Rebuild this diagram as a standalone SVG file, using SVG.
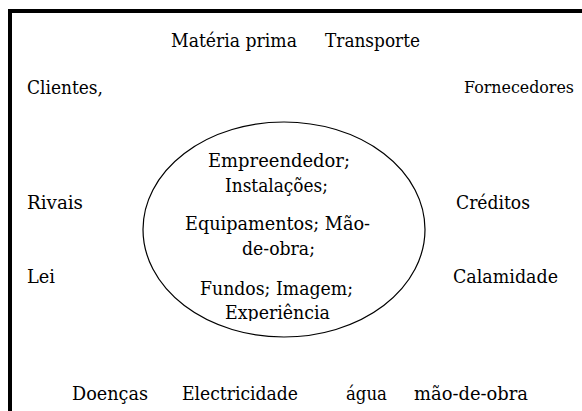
<svg xmlns="http://www.w3.org/2000/svg" width="582" height="411" viewBox="0 0 582 411">
<style>
text{font-family:"DejaVu Serif","Liberation Serif",serif;font-size:19px;fill:#000}
</style>
<defs>
<clipPath id="clipInner"><rect x="130" y="120" width="310" height="201"/></clipPath>
</defs>
<rect x="0" y="0" width="582" height="411" fill="#fff"/>
<path d="M10 420 V11 H600" fill="none" stroke="#000" stroke-width="4"/>
<g id="core">
<ellipse cx="284" cy="229.5" rx="141" ry="107.5" fill="none" stroke="#000" stroke-width="1.2"/>
<g clip-path="url(#clipInner)">
<text x="208" y="167" textLength="142" lengthAdjust="spacingAndGlyphs">Empreendedor;</text>
<text x="225" y="192" textLength="103" lengthAdjust="spacingAndGlyphs">Instalações;</text>
<text x="185" y="230" textLength="185" lengthAdjust="spacingAndGlyphs">Equipamentos; Mão-</text>
<text x="242" y="255" textLength="73" lengthAdjust="spacingAndGlyphs">de-obra;</text>
<text x="200" y="295" textLength="153" lengthAdjust="spacingAndGlyphs">Fundos; Imagem;</text>
<text x="225" y="319" textLength="105" lengthAdjust="spacingAndGlyphs">Experiência</text>
</g>
</g>
<g id="materia"><text x="171" y="47" textLength="126" lengthAdjust="spacingAndGlyphs">Matéria prima</text></g>
<g id="transporte"><text x="325" y="47" textLength="95" lengthAdjust="spacingAndGlyphs">Transporte</text></g>
<g id="clientes"><text x="27" y="94" textLength="76" lengthAdjust="spacingAndGlyphs">Clientes,</text></g>
<g id="fornecedores"><text x="464" y="93" style="font-size:17px" textLength="110" lengthAdjust="spacingAndGlyphs">Fornecedores</text></g>
<g id="rivais"><text x="27" y="209" textLength="56" lengthAdjust="spacingAndGlyphs">Rivais</text></g>
<g id="creditos"><text x="456" y="209" textLength="74" lengthAdjust="spacingAndGlyphs">Créditos</text></g>
<g id="lei"><text x="27" y="283" textLength="28" lengthAdjust="spacingAndGlyphs">Lei</text></g>
<g id="calamidade"><text x="453" y="283" textLength="105" lengthAdjust="spacingAndGlyphs">Calamidade</text></g>
<g id="doencas"><text x="72" y="400" textLength="76" lengthAdjust="spacingAndGlyphs">Doenças</text></g>
<g id="electricidade"><text x="182" y="400" textLength="116" lengthAdjust="spacingAndGlyphs">Electricidade</text></g>
<g id="agua"><text x="346" y="400" textLength="41" lengthAdjust="spacingAndGlyphs">água</text></g>
<g id="maodeobra"><text x="414" y="400" textLength="114" lengthAdjust="spacingAndGlyphs">mão-de-obra</text></g>
<g id="connectors"></g>
</svg>
